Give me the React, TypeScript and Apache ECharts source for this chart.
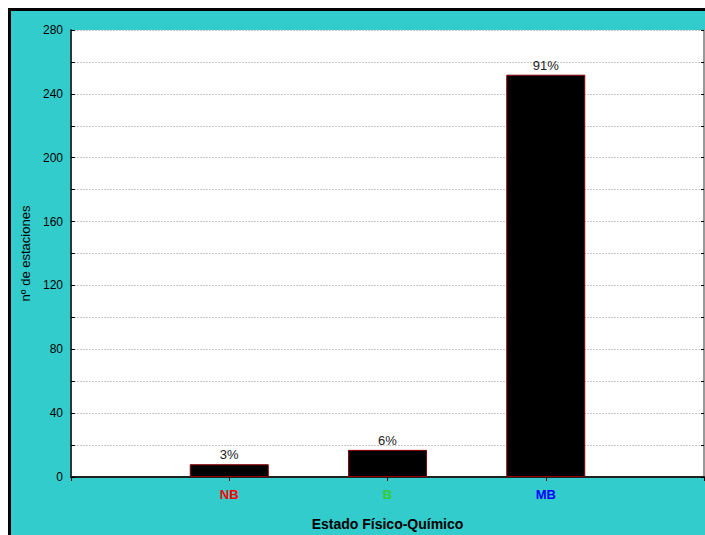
import React, { useEffect, useRef } from "react";
import * as echarts from "echarts";

const categories = ["NB", "B", "MB"];
const categoryColors = ["#FF0000", "#33CC33", "#0000FF"];
const values = [8, 17, 252];
const percentLabels = ["3%", "6%", "91%"];
const yTicks = [0, 40, 80, 120, 160, 200, 240, 280];

const FONT = "'Liberation Sans', Arial, sans-serif";

export default function App() {
  const ref = useRef<HTMLDivElement>(null);
  useEffect(() => {
    if (!ref.current) return;
    const chart = echarts.init(ref.current, undefined, { renderer: "svg" });
    const axisData = [
      "",
      ...categories.map((c, i) => ({
        value: c,
        textStyle: { color: categoryColors[i] },
      })),
      "",
    ];
    const seriesData = [
      "-",
      ...values.map((v, i) => ({
        value: v,
        label: { formatter: percentLabels[i] },
      })),
      "-",
    ];
    chart.setOption({
      animation: false,
      backgroundColor: "#33CCCC",
      textStyle: { fontFamily: FONT },
      grid: {
        left: 60,
        top: 19,
        right: 1,
        bottom: 58,
        containLabel: false,
        outerBoundsMode: "none",
        show: true,
        backgroundColor: "#FFFFFF",
        borderWidth: 0,
      },
      xAxis: [
        {
          type: "category",
          data: axisData,
          boundaryGap: false,
          position: "bottom",
          name: "Estado Físico-Químico",
          nameLocation: "middle",
          nameGap: 40,
          nameTextStyle: { fontFamily: FONT, fontWeight: "bold", fontSize: 14, color: "#000" },
          axisLine: { lineStyle: { color: "#222", width: 2 } },
          axisTick: { show: false },
          axisLabel: { fontFamily: FONT, fontWeight: "bold", fontSize: 13, margin: 11 },
          splitLine: { show: false },
        },
        {
          type: "category",
          data: axisData,
          boundaryGap: false,
          position: "top",
          axisLine: { lineStyle: { color: "#222", width: 1.5 } },
          axisTick: { show: true, inside: true, length: 4, lineStyle: { color: "#000" } },
          axisLabel: { show: false },
          splitLine: { show: false },
        },
      ],
      yAxis: [
        {
          type: "value",
          min: 0,
          max: 280,
          interval: 20,
          name: "nº de estaciones",
          nameLocation: "middle",
          nameGap: 39,
          nameTextStyle: { fontFamily: FONT, fontSize: 13, color: "#000" },
          axisLine: { show: true, lineStyle: { color: "#2A3A3A", width: 2 } },
          axisTick: { show: true, inside: true, length: 4, lineStyle: { color: "#000" } },
          axisLabel: {
            fontFamily: FONT,
            fontSize: 12,
            color: "#000",
            margin: 8,
            formatter: (v: number) => (yTicks.includes(v) ? String(v) : ""),
          },
          splitLine: { show: true, lineStyle: { color: "#C8C8C8", type: [2, 1], width: 1 } },
        },
        {
          type: "value",
          min: 0,
          max: 280,
          interval: 20,
          position: "right",
          axisLine: { show: true, lineStyle: { color: "#999999", width: 2 } },
          axisTick: { show: true, inside: true, length: 3, lineStyle: { color: "#000" } },
          axisLabel: { show: false },
          splitLine: { show: false },
        },
      ],
      series: [
        {
          type: "bar",
          data: seriesData,
          barWidth: 79,
          itemStyle: { color: "#000000", borderColor: "#8B0000", borderWidth: 1 },
          label: {
            show: true,
            position: "top",
            distance: 3,
            fontFamily: FONT,
            fontSize: 13,
            color: "#222",
          },
        },
      ],
    });
    return () => chart.dispose();
  }, []);
  return (
    <div
      style={{
        position: "fixed",
        left: 8,
        top: 8,
        width: 697,
        height: 527,
        borderLeft: "3px solid #000",
        borderTop: "3px solid #000",
        boxSizing: "border-box",
        overflow: "hidden",
      }}
    >
      <div ref={ref} style={{ width: 694, height: 524 }} />
    </div>
  );
}
